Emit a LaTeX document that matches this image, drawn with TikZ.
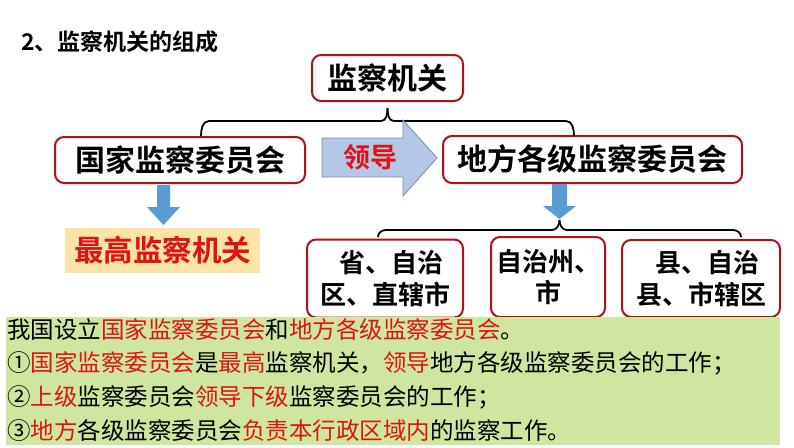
\documentclass[tikz,border=0pt]{standalone}
\usepackage{fontspec}
\setmainfont{Noto Sans CJK SC}
\newfontfamily\cjkb{Noto Sans CJK SC Bold}
\definecolor{boxred}{RGB}{176,16,24}
\definecolor{txtred}{RGB}{222,20,20}
\definecolor{arrblue}{RGB}{91,155,213}
\definecolor{leadfill}{RGB}{180,199,231}
\definecolor{leadline}{RGB}{120,140,170}
\definecolor{supfill}{RGB}{252,228,167}
\definecolor{greenbg}{RGB}{206,230,160}
\tikzset{
  rbox/.style={draw=boxred, line width=2pt, rounded corners=9pt, fill=white, inner sep=0pt, font=\cjkb},
  bline/.style={draw=black, line width=1.8pt},
  gline/.style={anchor=west, inner sep=1pt, font=\fontsize{23.5}{28}\selectfont},
}
\newcommand{\rd}[1]{\textcolor{txtred}{#1}}
\begin{document}
\begin{tikzpicture}[x=1pt,y=-1pt]
\useasboundingbox (0,0) rectangle (794,447);
% title
\node[anchor=west, inner sep=0pt, font=\cjkb\fontsize{23}{26}\selectfont] (title) at (21,42) {2、监察机关的组成};
% main boxes
\node[rbox, minimum width=151pt, minimum height=46pt, font=\cjkb\fontsize{30}{34}\selectfont] (top) at (387.5,78) {监察机关};
\node[rbox, minimum width=250pt, minimum height=46pt, font=\cjkb\fontsize{30}{34}\selectfont] (nat) at (180,160) {国家监察委员会};
\node[rbox, minimum width=299pt, minimum height=47pt, font=\cjkb\fontsize{30}{34}\selectfont] (loc) at (592.5,159.5) {地方各级监察委员会};
% upper brace
\coordinate (ub1) at (201,136);
\coordinate (ub2) at (574,136);
\coordinate (ubt) at (387.5,108);
\draw[bline] (ub1) to[out=90,in=180] (209,121) -- (381,121) to[out=0,in=270] (ubt);
\draw[bline] (ubt) to[out=270,in=180] (394,121) -- (566,121) to[out=0,in=90] (ub2);
% lead arrow
\draw[fill=leadfill, draw=leadline, line width=0.8pt] (322,138) -- (403,138) -- (403,120) -- (437,158) -- (403,196) -- (403,177) -- (322,177) -- cycle;
\node[font=\cjkb\fontsize{27}{30}\selectfont, text=txtred, inner sep=0pt] (lead) at (370,157) {领导};
% left down arrow
\fill[arrblue] (157,185) -- (170,185) -- (170,207) -- (180,207) -- (163.5,225) -- (147,207) -- (157,207) -- cycle;
% supreme
\node[fill=supfill, minimum width=195pt, minimum height=45pt, inner sep=0pt, text=txtred, font=\cjkb\fontsize{29.5}{32}\selectfont] (sup) at (162.5,250.5) {最高监察机关};
% right down arrow
\fill[arrblue] (552,184) -- (567,184) -- (567,206) -- (576,206) -- (559.5,219) -- (543,206) -- (552,206) -- cycle;
% lower brace
\coordinate (lb1) at (378,237);
\coordinate (lb2) at (741,237);
\coordinate (lbt) at (559.5,220);
\draw[bline] (lb1) to[out=90,in=180] (386,230) -- (552,230) to[out=0,in=270] (lbt);
\draw[bline] (lbt) to[out=270,in=180] (567,230) -- (733,230) to[out=0,in=90] (lb2);
% lower boxes
\node[rbox, minimum width=156pt, minimum height=78pt, align=center, font=\cjkb\fontsize{26}{32}\selectfont] (ba) at (385,278.5) {\hspace{0.5em}省、自治\\区、直辖市};
\node[rbox, minimum width=114pt, minimum height=80pt, align=center, font=\cjkb\fontsize{26}{31}\selectfont] (bb) at (548,277) {自治州、\\市};
\node[rbox, minimum width=158pt, minimum height=77pt, align=center, font=\cjkb\fontsize{26}{32}\selectfont] (bc) at (701,278.5) {\hspace{0.5em}县、自治\\县、市辖区};
% green box
\fill[greenbg] (6,317) rectangle (780,445);
\node[gline] (l1) at (6,330) {我国设立\rd{国家监察委员会}和\rd{地方各级监察委员会}。};
\node[gline] (l2) at (6,363.5) {①\rd{国家监察委员会}是\rd{最高}监察机关，\rd{领导}地方各级监察委员会的工作；};
\node[gline] (l3) at (6,397) {②\rd{上级}监察委员会\rd{领导下级}监察委员会的工作；};
\node[gline] (l4) at (6,430.5) {③\rd{地方}各级监察委员会\rd{负责本行政区域内}的监察工作。};
\end{tikzpicture}
\end{document}
